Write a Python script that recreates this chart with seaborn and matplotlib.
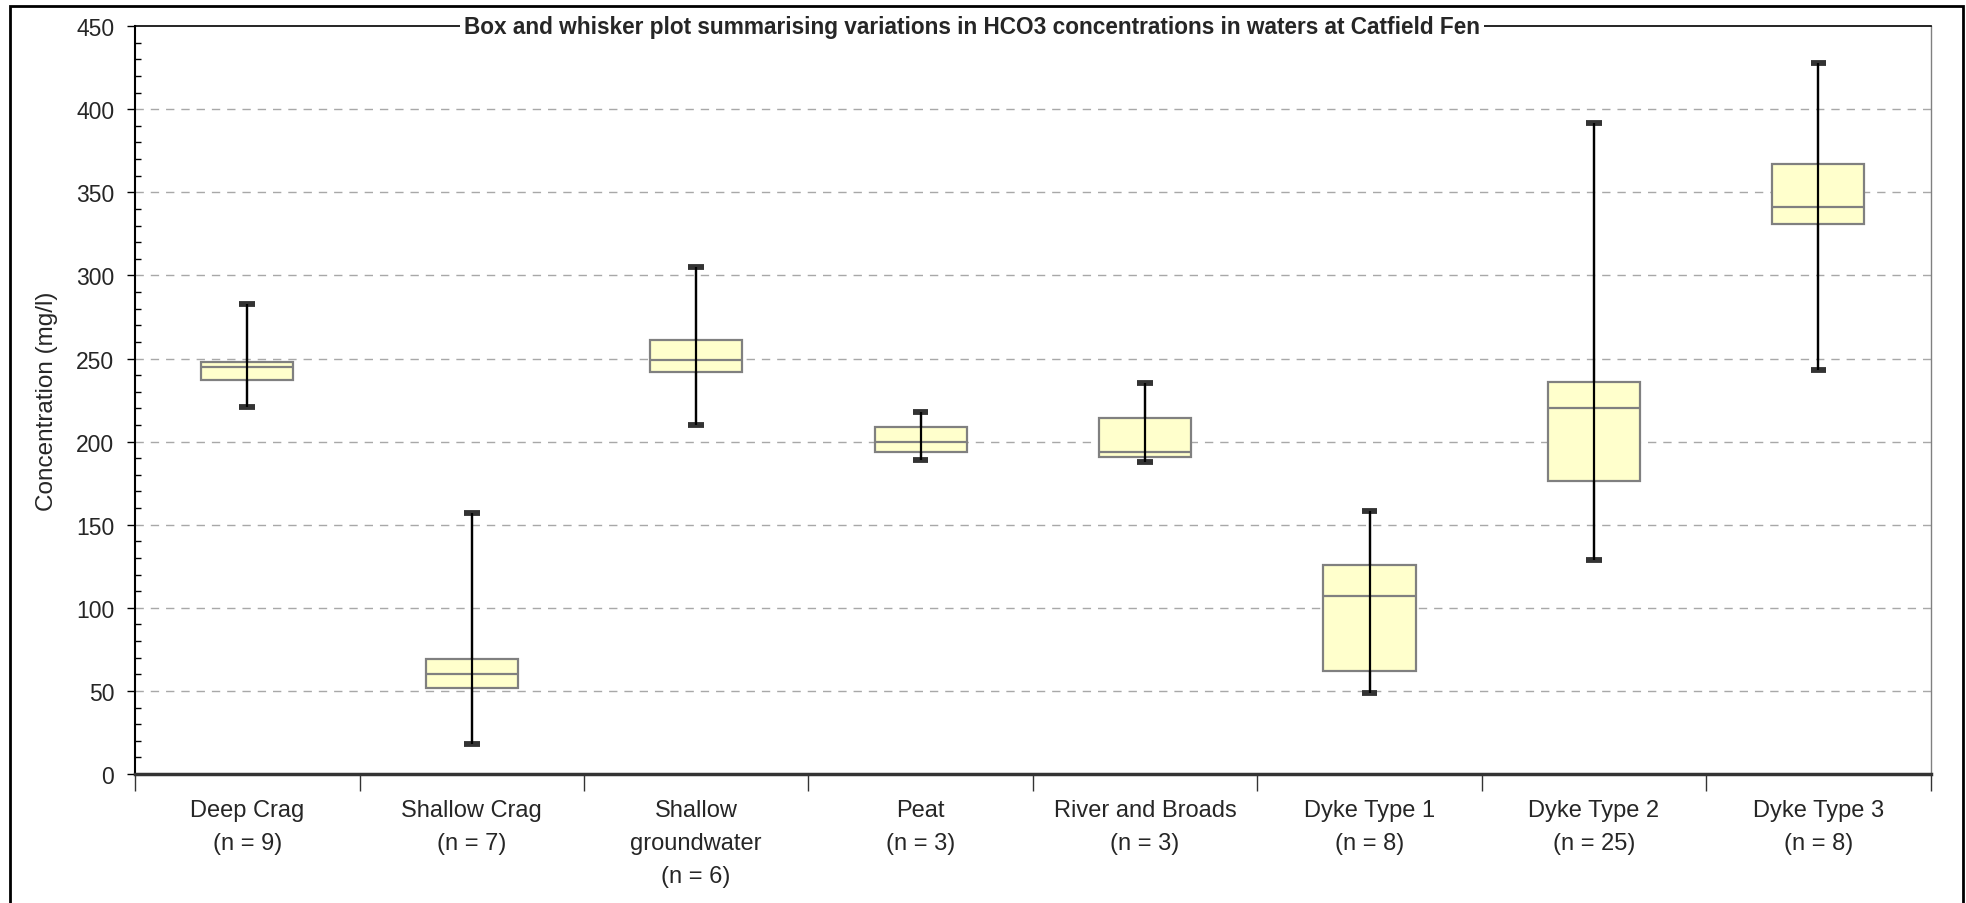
import numpy as np
import pandas as pd
import matplotlib
matplotlib.use("Agg")
import matplotlib.pyplot as plt
from matplotlib.patches import Rectangle
from matplotlib.ticker import MultipleLocator, FixedLocator
import seaborn as sns

# Five-number summaries of HCO3 concentration (mg/l) for each water type
categories = ["Deep Crag\n(n = 9)", "Shallow Crag\n(n = 7)", "Shallow\ngroundwater\n(n = 6)",
              "Peat\n(n = 3)", "River and Broads\n(n = 3)", "Dyke Type 1\n(n = 8)",
              "Dyke Type 2\n(n = 25)", "Dyke Type 3\n(n = 8)"]
minimum = [221, 18, 210, 189, 188, 49, 129, 243]
lower_quartile = [237, 52, 242, 194, 191, 62, 176, 331]
median = [245, 60, 249, 200, 194, 107, 220, 341]
upper_quartile = [248, 69, 261, 209, 214, 126, 236, 367]
maximum = [283, 157, 305, 218, 235, 158, 392, 428]

# Long table: the five summary values per group reproduce the summary exactly
rows = []
for cat, a, b, c, d, e in zip(categories, minimum, lower_quartile, median, upper_quartile, maximum):
    for v in (a, b, c, d, e):
        rows.append({"group": cat, "value": v})
df = pd.DataFrame(rows)

sns.set_style("white")
plt.rcParams["font.family"] = ["Liberation Sans", "DejaVu Sans"]

fig = plt.figure(figsize=(19.66, 9.04), dpi=100)
ax = fig.add_axes([0.0687, 0.1427, 0.9133, 0.8273])

sns.boxplot(data=df, x="group", y="value", order=categories, whis=(0, 100),
            width=0.41, color="#FFFFCC", saturation=1, linecolor="#808080",
            linewidth=1.6, ax=ax, capwidths=0.07,
            whiskerprops=dict(color="black", linewidth=1.6),
            capprops=dict(color="#333333", linewidth=4.2, solid_capstyle="butt"),
            medianprops=dict(color="#808080", linewidth=1.6),
            boxprops=dict(facecolor="#FFFFCC", edgecolor="#808080", linewidth=1.6))

# Whisker line runs right through each box
ax.vlines(np.arange(len(categories)), minimum, maximum, color="black", linewidth=1.6, zorder=5)

ax.set_ylim(0, 450)
ax.set_xlim(-0.5, len(categories) - 0.5)
ax.yaxis.set_major_locator(MultipleLocator(50))
ax.yaxis.set_minor_locator(MultipleLocator(10))
ax.tick_params(axis="y", which="major", direction="out", length=6, width=1,
               labelsize=16.5, color="black", left=True, pad=9)
ax.tick_params(axis="y", which="minor", direction="in", length=4, width=1,
               color="black", left=True)
ax.set_xticks(np.arange(len(categories)))
ax.set_xticklabels(categories, fontsize=17, linespacing=1.65)
ax.xaxis.set_minor_locator(FixedLocator(np.arange(len(categories) + 1) - 0.5))
ax.tick_params(axis="x", which="major", length=0, pad=18)
ax.tick_params(axis="x", which="minor", direction="out", length=12, width=1,
               color="#333333", bottom=True)

ax.set_xlabel("")
ax.set_ylabel("Concentration (mg/l)", fontsize=17.5, labelpad=13)

for y in range(50, 450, 50):
    ax.axhline(y, color="#A8A8A8", linewidth=1, linestyle=(0, (6, 5)), zorder=0)

ax.spines["left"].set_color("black")
ax.spines["left"].set_linewidth(1.5)
ax.spines["top"].set_color("black")
ax.spines["top"].set_linewidth(1.2)
ax.spines["right"].set_color("#808080")
ax.spines["right"].set_linewidth(1)
ax.spines["bottom"].set_color("#333333")
ax.spines["bottom"].set_linewidth(2.5)

# Title sits on the top frame line, centred on the figure
fig.text(972 / 1966, ax.get_position().y1,
         "Box and whisker plot summarising variations in HCO3 concentrations in waters at Catfield Fen",
         ha="center", va="center", fontsize=16.3, fontweight="bold",
         bbox=dict(facecolor="white", edgecolor="none", pad=3), zorder=10)

# Outer frame around the whole figure
fig.patches.append(Rectangle((10 / 1966, -0.05), 1953 / 1966, 1 - 7 / 904 + 0.05,
                             transform=fig.transFigure, fill=False, edgecolor="black",
                             linewidth=2, clip_on=False))

fig.savefig("out.png", dpi=100)
